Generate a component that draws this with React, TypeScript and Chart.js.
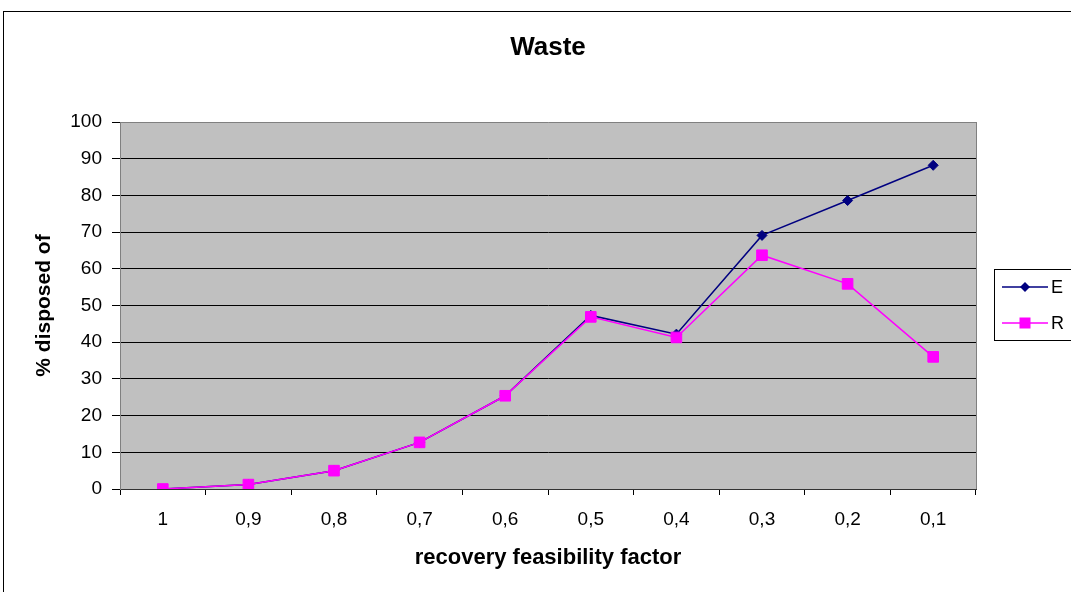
import React, { useEffect, useRef } from "react";
import { Chart, registerables } from "chart.js";

Chart.register(...registerables);

const categories = ["1", "0,9", "0,8", "0,7", "0,6", "0,5", "0,4", "0,3", "0,2", "0,1"];
const seriesE = [0, 1.2, 5, 12.7, 25.4, 47.3, 42.2, 69.1, 78.6, 88.2];
const seriesR = [0, 1.2, 5, 12.7, 25.4, 46.9, 41.3, 63.7, 55.9, 36.0];
const titleText = "Waste";
const yTitle = "% disposed of";
const xTitle = "recovery feasibility factor";

const FONT = "'Liberation Sans', Arial, sans-serif";

const decorPlugin = {
  id: "decor",
  beforeDatasetsDraw(chart: any) {
    const { ctx, chartArea: a } = chart;
    ctx.save();
    ctx.strokeStyle = "#808080";
    ctx.lineWidth = 1;
    ctx.beginPath();
    ctx.moveTo(Math.round(a.right) + 0.5, a.top);
    ctx.lineTo(Math.round(a.right) + 0.5, a.bottom);
    ctx.stroke();
    ctx.restore();
  },
  beforeDraw(chart: any) {
    const { ctx, chartArea: a } = chart;
    ctx.save();
    ctx.fillStyle = "#ffffff";
    ctx.fillRect(0, 0, chart.width, chart.height);
    ctx.fillStyle = "#c0c0c0";
    ctx.fillRect(a.left, a.top, a.right - a.left, a.bottom - a.top);
    ctx.strokeStyle = "#000000";
    ctx.lineWidth = 1;
    ctx.strokeRect(3.5, 11.5, chart.width + 20, chart.height + 20);
    ctx.restore();
  },
  afterDraw(chart: any) {
    const { ctx, chartArea: a } = chart;
    ctx.save();
    ctx.fillStyle = "#000";
    ctx.font = `bold 26px ${FONT}`;
    ctx.textAlign = "center";
    ctx.textBaseline = "middle";
    ctx.fillText(titleText, (a.left + a.right) / 2, 48);
    const lx = 994.5, ly = 269.5, lw = 100, lh = 71;
    ctx.fillStyle = "#fff";
    ctx.fillRect(lx, ly, lw, lh);
    ctx.strokeStyle = "#000";
    ctx.lineWidth = 1;
    ctx.strokeRect(lx, ly, lw, lh);
    const rows = [287, 323];
    chart.data.datasets.forEach((ds: any, i: number) => {
      const y = rows[i];
      ctx.strokeStyle = ds.borderColor;
      ctx.lineWidth = ds.borderWidth;
      ctx.beginPath();
      ctx.moveTo(1002, y);
      ctx.lineTo(1048, y);
      ctx.stroke();
      ctx.fillStyle = ds.pointBackgroundColor;
      if (ds.pointStyle === "rectRot") {
        const r = 5;
        ctx.beginPath();
        ctx.moveTo(1025, y - r);
        ctx.lineTo(1025 + r, y);
        ctx.lineTo(1025, y + r);
        ctx.lineTo(1025 - r, y);
        ctx.closePath();
        ctx.fill();
      } else {
        ctx.fillRect(1025 - 5.5, y - 5.5, 11, 11);
      }
      ctx.fillStyle = "#000";
      ctx.font = `18px ${FONT}`;
      ctx.textAlign = "left";
      ctx.textBaseline = "middle";
      ctx.fillText(ds.label, 1051, y + 1);
    });
    ctx.restore();
  },
};

export default function App() {
  const ref = useRef<HTMLCanvasElement | null>(null);
  useEffect(() => {
    if (!ref.current) return;
    const chart = new Chart(ref.current, {
      type: "line",
      data: {
        labels: categories,
        datasets: [
          {
            label: "E",
            data: seriesE,
            order: 2,
            borderColor: "#000080",
            backgroundColor: "#000080",
            pointBackgroundColor: "#000080",
            pointBorderColor: "#000080",
            borderWidth: 1.5,
            pointStyle: "rectRot",
            pointRadius: 5,
            pointBorderWidth: 1,
            tension: 0,
          },
          {
            label: "R",
            data: seriesR,
            order: 1,
            borderColor: "#ff00ff",
            backgroundColor: "#ff00ff",
            pointBackgroundColor: "#ff00ff",
            pointBorderColor: "#ff00ff",
            borderWidth: 1.5,
            pointStyle: "rect",
            pointRadius: 7.5,
            pointBorderWidth: 1,
            tension: 0,
          },
        ],
      },
      plugins: [decorPlugin],
      options: {
        animation: false,
        responsive: false,
        maintainAspectRatio: false,
        layout: { padding: { top: 122, right: 95, left: 0, bottom: 0 } },
        plugins: {
          legend: { display: false },
          title: { display: false },
          tooltip: { enabled: false },
        },
        scales: {
          x: {
            type: "category",
            offset: true,
            grid: {
              offset: true,
              drawOnChartArea: false,
              drawTicks: true,
              tickLength: 6,
              color: "#000",
            },
            border: { color: "#333", width: 1 },
            ticks: {
              color: "#000",
              font: { family: FONT, size: 19 },
              padding: 13,
              maxRotation: 0,
            },
            title: {
              display: true,
              text: xTitle,
              color: "#000",
              font: { family: FONT, size: 22, weight: "bold" },
              padding: { top: 0, bottom: 21 },
            },
            afterFit(scale: any) {
              scale.height = 103;
            },
          },
          y: {
            min: 0,
            max: 100,
            ticks: {
              stepSize: 10,
              color: "#000",
              font: { family: FONT, size: 19 },
              padding: 10,
            },
            grid: {
              color: (c: any) => (c.tick && c.tick.value === 100 ? "#808080" : "#000"),
              lineWidth: 1,
              drawTicks: true,
              tickLength: 8,
              tickColor: "#000",
            },
            border: { color: "#808080", width: 1 },
            title: {
              display: true,
              text: yTitle,
              color: "#000",
              font: { family: FONT, size: 21, weight: "bold" },
              padding: { top: 32, bottom: 0 },
            },
            afterFit(scale: any) {
              scale.width = 120;
            },
          },
        },
      },
    } as any);
    return () => chart.destroy();
  }, []);
  return (
    <div style={{ position: "fixed", left: 0, top: 0, width: 1071, height: 592, background: "#fff" }}>
      <canvas ref={ref} width={1071} height={592} style={{ display: "block", width: 1071, height: 592 }} />
    </div>
  );
}
